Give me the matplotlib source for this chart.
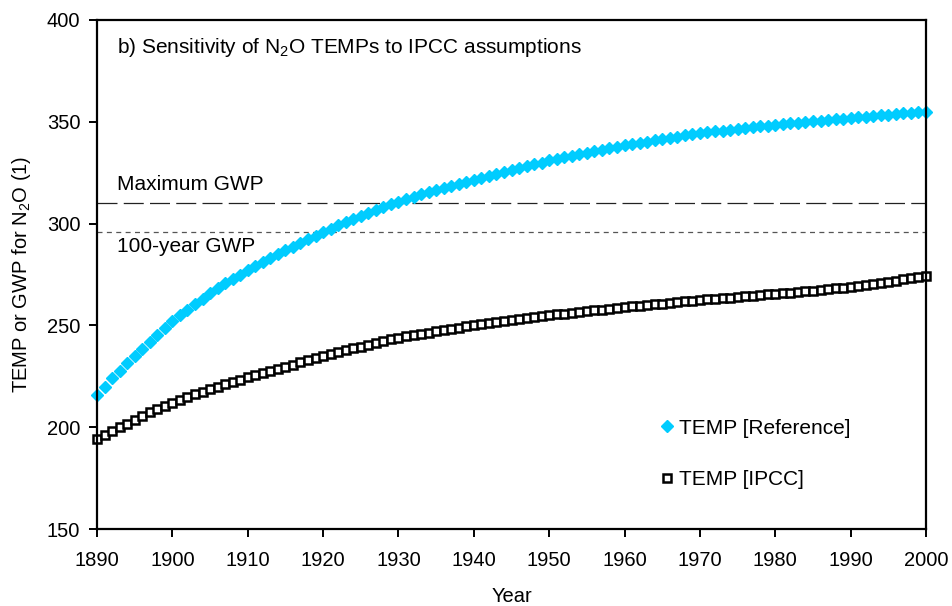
import numpy as np
import matplotlib.pyplot as plt

plt.rcParams['font.family'] = 'Liberation Sans'
plt.rcParams['font.size'] = 14.5
plt.rcParams['mathtext.default'] = 'regular'

years = np.arange(1890, 2001)

temp_reference = [
    216, 220, 224, 227.8, 231.5, 235, 238.5, 242, 245.3, 248.7,
    252, 255, 257.8, 260.5, 263.2, 265.8, 268.3, 270.6, 272.8, 275,
    277, 279, 281, 283, 284.9, 286.8, 288.6, 290.4, 292.2, 294.1,
    296, 297.6, 299.2, 300.8, 302.3, 303.8, 305.2, 306.6, 308, 309.4,
    310.8, 312.2, 313.3, 314.4, 315.5, 316.6, 317.6, 318.6, 319.6, 320.5,
    321.5, 322.5, 323.5, 324.5, 325.5, 326.4, 327.3, 328.2, 329.1, 330,
    331, 331.8, 332.6, 333.4, 334.2, 334.9, 335.6, 336.3, 337, 337.7,
    338.5, 339.1, 339.7, 340.3, 340.9, 341.5, 342.1, 342.7, 343.3, 343.9,
    344.5, 344.9, 345.3, 345.7, 346.1, 346.5, 346.9, 347.3, 347.7, 348.1,
    348.5, 348.8, 349.2, 349.5, 349.9, 350.2, 350.6, 350.9, 351.3, 351.6,
    352, 352.3, 352.6, 352.9, 353.2, 353.5, 353.8, 354.1, 354.4, 354.7,
    355,
]

temp_ipcc = [
    194, 196, 198, 199.9, 201.8, 203.7, 205.5, 207.3, 209, 210.5,
    212, 213.4, 214.8, 216.1, 217.4, 218.7, 220, 221.2, 222.3, 223.4,
    224.5, 225.6, 226.7, 227.8, 228.8, 229.8, 230.8, 231.8, 232.8, 233.9,
    235, 236, 236.9, 237.8, 238.7, 239.6, 240.5, 241.4, 242.3, 243.2,
    244, 244.7, 245.3, 245.9, 246.5, 247.1, 247.7, 248.3, 248.9, 249.5,
    250, 250.5, 251, 251.5, 252, 252.5, 253, 253.5, 254, 254.5,
    255, 255.4, 255.8, 256.2, 256.6, 257, 257.4, 257.8, 258.2, 258.6,
    259, 259.3, 259.7, 260, 260.4, 260.7, 261.1, 261.4, 261.8, 262.1,
    262.5, 262.8, 263.1, 263.4, 263.7, 264, 264.3, 264.6, 264.9, 265.2,
    265.5, 265.8, 266.1, 266.4, 266.7, 267.1, 267.4, 267.8, 268.2, 268.6,
    269, 269.4, 269.9, 270.4, 270.9, 271.4, 272, 272.6, 273.2, 273.8,
    274.5,
]

max_gwp = 310
gwp_100 = 296

fig = plt.figure(figsize=(9.52, 6.06), dpi=100)
ax = fig.add_axes([0.1019, 0.127, 0.8708, 0.840])

ax.axhline(max_gwp, color='#222222', lw=0.9, dashes=(16, 5))
ax.axhline(gwp_100, color='#555555', lw=0.9, dashes=(4, 3.5))

ax.plot(years, temp_reference, ls='none', marker='D', ms=6.4,
        color='#00CCFF', mec='#00CCFF', label='TEMP [Reference]', clip_on=False)
ax.plot(years, temp_ipcc, ls='none', marker='s', ms=6.4, mfc='white',
        mec='black', mew=1.8, label='TEMP [IPCC]', clip_on=False)

ax.text(1892.7, max_gwp + 9, 'Maximum GWP', fontsize=15, va='center')
ax.text(1892.7, gwp_100 - 7, '100-year GWP', fontsize=15, va='center')
ax.text(1892.7, 386.5, 'b) Sensitivity of N$_2$O TEMPs to IPCC assumptions',
        fontsize=15, va='center')

ax.set_xlim(1890, 2000)
ax.set_ylim(150, 400)
ax.set_xticks(np.arange(1890, 2001, 10))
ax.set_yticks(np.arange(150, 401, 50))
ax.tick_params(direction='out', length=6, width=1.4, labelsize=14.5)
ax.tick_params(axis='x', pad=10)
ax.tick_params(axis='y', pad=6)
for s in ax.spines.values():
    s.set_linewidth(1.6)

ax.set_xlabel('Year', fontsize=14.5, labelpad=12)
ax.set_ylabel('TEMP or GWP for N$_2$O (1)', fontsize=14.5, labelpad=10)

ax.legend(loc='center left', bbox_to_anchor=(0.655, 0.148), frameon=False,
          handletextpad=0.15, handlelength=0.8, labelspacing=1.55,
          fontsize=15, markerscale=0.9)

fig.savefig('out.png', dpi=100)
